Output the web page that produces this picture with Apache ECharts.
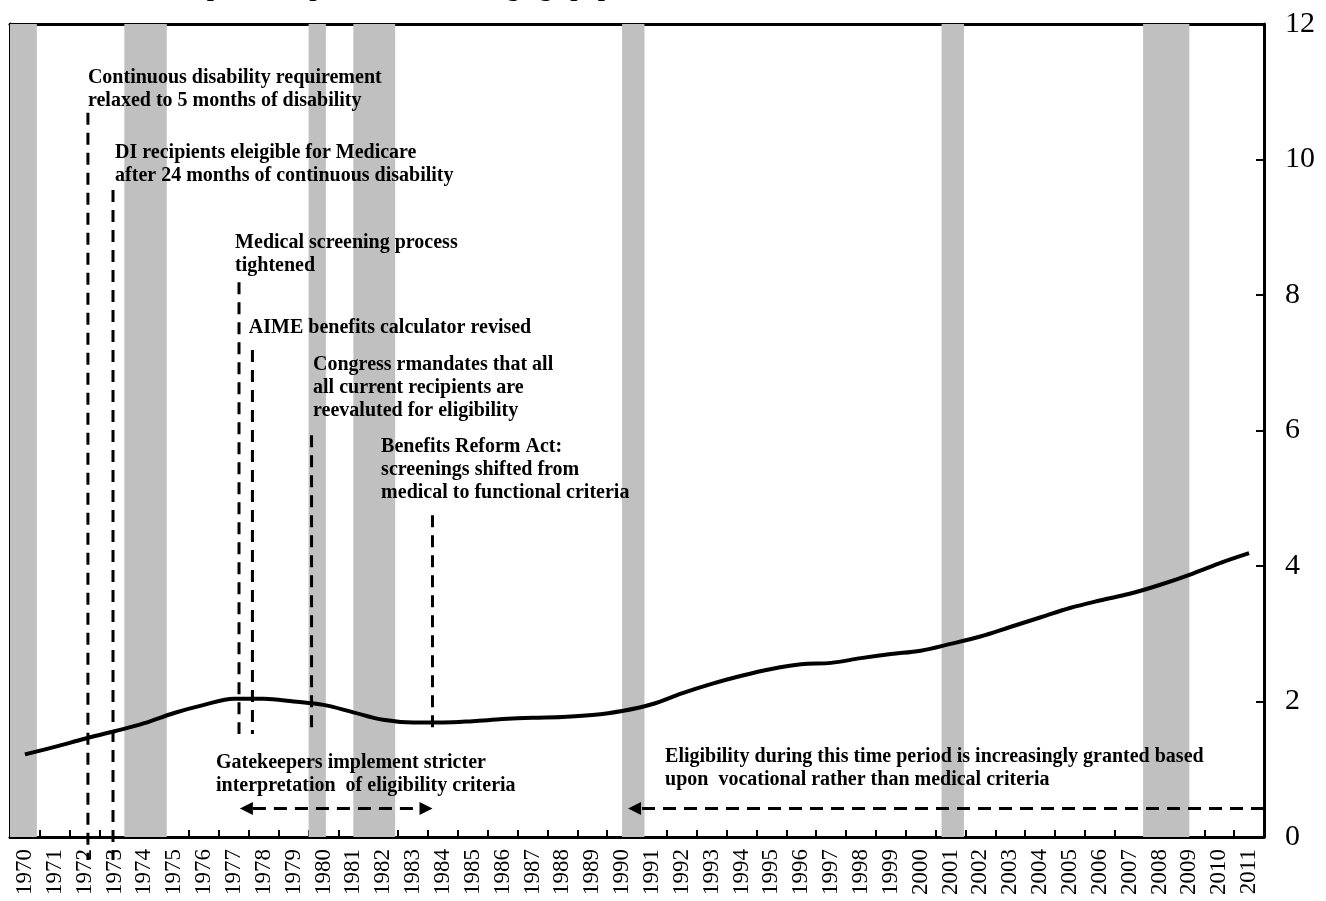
<!DOCTYPE html>
<html>
<head>
<meta charset="utf-8">
<script src="https://cdn.jsdelivr.net/npm/echarts@6/dist/echarts.min.js"></script>
<style>
html,body{margin:0;padding:0;background:#fff;}
#chart{width:1326px;height:901px;}
</style>
</head>
<body>
<div id="chart"></div>
<script>
// ---- data ----
const years = ['1970','1971','1972','1973','1974','1975','1976','1977','1978','1979',
  '1980','1981','1982','1983','1984','1985','1986','1987','1988','1989',
  '1990','1991','1992','1993','1994','1995','1996','1997','1998','1999',
  '2000','2001','2002','2003','2004','2005','2006','2007','2008','2009',
  '2010','2011'];
const recipients = [1.22,1.33,1.45,1.56,1.68,1.83,1.95,2.04,2.04,2.00,
  1.95,1.84,1.73,1.69,1.69,1.71,1.74,1.76,1.77,1.80,
  1.86,1.96,2.12,2.26,2.38,2.48,2.55,2.57,2.64,2.70,
  2.75,2.85,2.96,3.10,3.24,3.38,3.49,3.59,3.72,3.87,
  4.04,4.19];
const yTicks = [0, 2, 4, 6, 8, 10, 12];
// recession periods, decimal years [start, end]
const recessions = [[1970.0,1970.9],[1973.83,1975.25],[1980.0,1980.58],[1981.5,1982.9],
  [1990.5,1991.25],[2001.2,2001.95],[2007.95,2009.5]];
// policy marker lines: [decimal year, top value, bottom value]
const policyLines = [[1972.61,10.69,-0.34],[1973.45,9.55,-0.34],[1977.67,8.19,1.52],
  [1978.12,7.19,1.52],[1980.1,5.93,1.52],[1984.15,4.75,1.52]];
// arrows: [tail/start year, head year, value, double-headed]
const arrows = [[1977.7,1984.15,0.42,1],[2012,1990.7,0.42,0]];
// annotations: [decimal year of left edge, value of top edge, text]
const notes = [
  [1972.61,11.37,'Continuous disability requirement\nrelaxed to 5 months of disability'],
  [1973.52,10.27,'DI recipients eleigible for Medicare\nafter 24 months of continuous disability'],
  [1977.54,8.94,'Medical screening process\ntightened'],
  [1978.0,7.68,'AIME benefits calculator revised'],
  [1980.15,7.14,'Congress rmandates that all\nall current recipients are\nreevaluted for eligibility'],
  [1982.43,5.93,'Benefits Reform Act:\nscreenings shifted from\nmedical to functional criteria'],
  [1976.9,1.26,'Gatekeepers implement stricter\ninterpretation  of eligibility criteria'],
  [1991.94,1.35,'Eligibility during this time period is increasingly granted based\nupon  vocational rather than medical criteria']
];
const titleText = 'DI recipients as percent of working age population';

const SERIF = '"Liberation Serif","Times New Roman",serif';
const chart = echarts.init(document.getElementById('chart'));

chart.setOption({
  animation: false,
  backgroundColor: '#fff',
  title: {
    text: titleText, left: 130, top: -24, padding: 0,
    textStyle: {fontFamily: SERIF, fontWeight: 'bold', fontSize: 26, color: '#000'}
  },
  grid: {left: 10, right: 62, top: 24, bottom: 64, containLabel: false},
  xAxis: [{
    type: 'category', data: years, boundaryGap: true, position: 'bottom',
    axisLine: {show: true, lineStyle: {color: '#000', width: 3}},
    axisTick: {show: true, inside: true, length: 7, interval: 0, lineStyle: {color: '#000', width: 2}},
    axisLabel: {interval: 0, rotate: 90, margin: 12, fontFamily: SERIF, fontSize: 23, color: '#000'},
    splitLine: {show: false}
  }, {
    type: 'value', min: 1970, max: 2012, position: 'top',
    axisLine: {show: true, onZero: false, lineStyle: {color: '#000', width: 3}},
    axisTick: {show: false}, axisLabel: {show: false}, splitLine: {show: false}
  }],
  yAxis: [{
    type: 'value', min: 0, max: 12, interval: 2, position: 'right',
    axisLine: {show: true, lineStyle: {color: '#000', width: 3}},
    axisTick: {show: true, inside: true, length: 8, lineStyle: {color: '#000', width: 2}},
    axisLabel: {margin: 21, fontFamily: SERIF, fontSize: 30, color: '#000',
      formatter: v => yTicks.indexOf(v) >= 0 ? String(v) : ''},
    splitLine: {show: false}
  }, {
    type: 'value', min: 0, max: 12, position: 'left',
    axisLine: {show: true, onZero: false, lineStyle: {color: '#000', width: 3}},
    axisTick: {show: false}, axisLabel: {show: false}, splitLine: {show: false}
  }],
  series: [
    {
      type: 'custom', name: 'recessions', xAxisIndex: 1, yAxisIndex: 0, z: 1, clip: true,
      data: recessions,
      encode: {x: [0, 1]},
      renderItem: function (params, api) {
        const p1 = api.coord([api.value(0), 12]);
        const p2 = api.coord([api.value(1), 0]);
        return {type: 'rect', shape: {x: p1[0], y: p1[1], width: p2[0] - p1[0], height: p2[1] - p1[1]},
          style: {fill: '#c0c0c0'}};
      }
    },
    {
      type: 'custom', name: 'policy', xAxisIndex: 1, yAxisIndex: 0, z: 3, clip: false,
      data: policyLines,
      encode: {x: 0, y: [1, 2]},
      renderItem: function (params, api) {
        const a = api.coord([api.value(0), api.value(1)]);
        const b = api.coord([api.value(0), api.value(2)]);
        return {type: 'line', shape: {x1: a[0], y1: a[1], x2: b[0], y2: b[1]},
          style: {stroke: '#000', lineWidth: 3, lineDash: [12, 8]}};
      }
    },
    {
      type: 'custom', name: 'arrows', xAxisIndex: 1, yAxisIndex: 0, z: 3, clip: false,
      data: arrows,
      encode: {x: [0, 1], y: 2},
      renderItem: function (params, api) {
        const t = api.coord([api.value(0), api.value(2)]);
        const h = api.coord([api.value(1), api.value(2)]);
        const dbl = api.value(3) === 1;
        const dir = h[0] > t[0] ? 1 : -1;
        const L = 13, W = 6.5;
        const children = [];
        const x1 = dbl ? t[0] + dir * L : t[0];
        const x2 = h[0] - dir * L;
        children.push({type: 'line', shape: {x1: x1, y1: t[1], x2: x2, y2: h[1]},
          style: {stroke: '#000', lineWidth: 3, lineDash: [13, 8]}});
        children.push({type: 'polygon', shape: {points: [[h[0], h[1]], [h[0] - dir * L, h[1] - W], [h[0] - dir * L, h[1] + W]]},
          style: {fill: '#000'}});
        if (dbl) {
          children.push({type: 'polygon', shape: {points: [[t[0], t[1]], [t[0] + dir * L, t[1] - W], [t[0] + dir * L, t[1] + W]]},
            style: {fill: '#000'}});
        }
        return {type: 'group', children: children};
      }
    },
    {
      type: 'custom', name: 'notes', xAxisIndex: 1, yAxisIndex: 0, z: 5, clip: false,
      data: notes.map(n => [n[0], n[1], n[2]]),
      encode: {x: 0, y: 1},
      renderItem: function (params, api) {
        const p = api.coord([api.value(0), api.value(1)]);
        return {type: 'text', x: p[0], y: p[1],
          style: {text: notes[params.dataIndex][2], fill: '#000', align: 'left', verticalAlign: 'top',
            fontFamily: SERIF, fontWeight: 'bold', fontSize: 20, lineHeight: 23}};
      }
    },
    {
      type: 'line', name: 'DI recipients', xAxisIndex: 0, yAxisIndex: 0, z: 4,
      data: recipients, smooth: 0.35, showSymbol: false, symbol: 'none',
      lineStyle: {color: '#000', width: 4}
    }
  ]
});
</script>
</body>
</html>
